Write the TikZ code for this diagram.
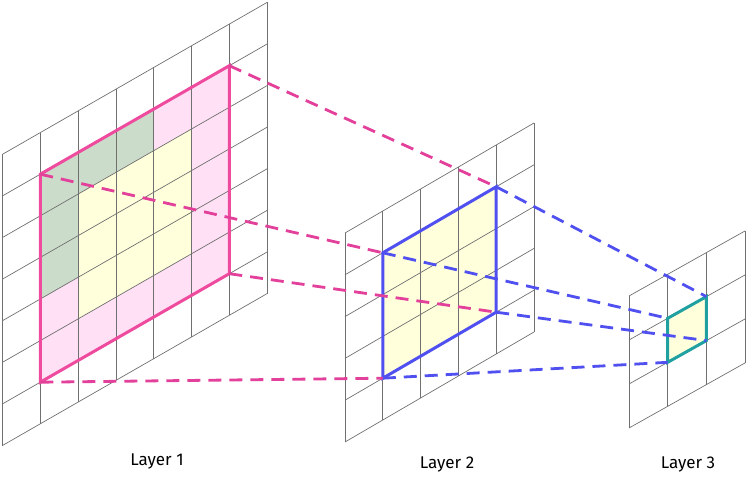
\documentclass[tikz,border=0pt]{standalone}
\usepackage{fontspec}
\setmainfont{Fira Sans}
\definecolor{pinkline}{HTML}{EE4A9E}
\definecolor{pinkdashc}{HTML}{E2409A}
\definecolor{pinkfill}{HTML}{FFE0F5}
\definecolor{greenfill}{HTML}{CCDCCA}
\definecolor{yellowfill}{HTML}{FFFFDC}
\definecolor{blueline}{HTML}{5050F0}
\definecolor{tealline}{HTML}{20A0A0}
\definecolor{gridline}{HTML}{707070}
\begin{document}
\begin{tikzpicture}[x=1pt,y=1pt,
  gridl/.style={draw=gridline, line width=0.7pt},
  pinkbox/.style={draw=pinkline, line width=3pt},
  bluebox/.style={draw=blueline, line width=3pt},
  tealbox/.style={draw=tealline, line width=3pt},
  pinkconn/.style={draw=pinkdashc, line width=2.8pt, dash pattern=on 13pt off 8pt},
  blueconn/.style={draw=blueline, line width=2.8pt, dash pattern=on 13pt off 8pt},
  lab/.style={font=\fontsize{17}{20}\selectfont, text=black}]
\useasboundingbox (0,0) rectangle (749,485);
% Layer 1
\begin{scope}[shift={(2.5,330.7)}, x={(37.8pt,21.7pt)}, y={(0pt,-41.6pt)}]
  \fill[pinkfill] (1,1) -- (6,1) -- (6,6) -- (1,6) -- cycle;
  \fill[greenfill] (1,1) -- (4,1) -- (4,4) -- (1,4) -- cycle;
  \fill[yellowfill] (2,2) -- (5,2) -- (5,5) -- (2,5) -- cycle;
  \foreach \i in {0,...,7} \draw[gridl] (\i,0) -- (\i,7);
  \foreach \j in {0,...,7} \draw[gridl] (0,\j) -- (7,\j);
  \coordinate (A1) at (1,1);
  \coordinate (A2) at (6,1);
  \coordinate (A3) at (6,6);
  \coordinate (A4) at (1,6);
  \draw[pinkbox] (A1) -- (A2) -- (A3) -- (A4) -- cycle;
\end{scope}
% Layer 2
\begin{scope}[shift={(345,252)}, x={(37.8pt,22pt)}, y={(0pt,-41.8pt)}]
  \fill[yellowfill] (1,1) -- (4,1) -- (4,4) -- (1,4) -- cycle;
  \foreach \i in {0,...,5} \draw[gridl] (\i,0) -- (\i,5);
  \foreach \j in {0,...,5} \draw[gridl] (0,\j) -- (5,\j);
  \coordinate (B1) at (1,1);
  \coordinate (B2) at (4,1);
  \coordinate (B3) at (4,4);
  \coordinate (B4) at (1,4);
  \draw[bluebox] (B1) -- (B2) -- (B3) -- (B4) -- cycle;
\end{scope}
% Layer 3
\begin{scope}[shift={(629,189)}, x={(38.7pt,21.7pt)}, y={(0pt,-44pt)}]
  \fill[yellowfill] (1,1) -- (2,1) -- (2,2) -- (1,2) -- cycle;
  \foreach \i in {0,...,3} \draw[gridl] (\i,0) -- (\i,3);
  \foreach \j in {0,...,3} \draw[gridl] (0,\j) -- (3,\j);
  \coordinate (C1) at (1,1);
  \coordinate (C2) at (2,1);
  \coordinate (C3) at (2,2);
  \coordinate (C4) at (1,2);
  \draw[tealbox] (C1) -- (C2) -- (C3) -- (C4) -- cycle;
\end{scope}
% connectors
\draw[pinkconn] (A1) -- (B1);
\draw[pinkconn] (A2) -- (B2);
\draw[pinkconn] (A3) -- (B3);
\draw[pinkconn] (A4) -- (B4);
\draw[blueconn] (B1) -- (C1);
\draw[blueconn] (B2) -- (C2);
\draw[blueconn] (B3) -- (C3);
\draw[blueconn] (B4) -- (C4);
% labels
\node[lab] (lab1) at (157,24) {Layer 1};
\node[lab] (lab2) at (447,21) {Layer 2};
\node[lab] (lab3) at (688,21) {Layer 3};
\end{tikzpicture}
\end{document}
